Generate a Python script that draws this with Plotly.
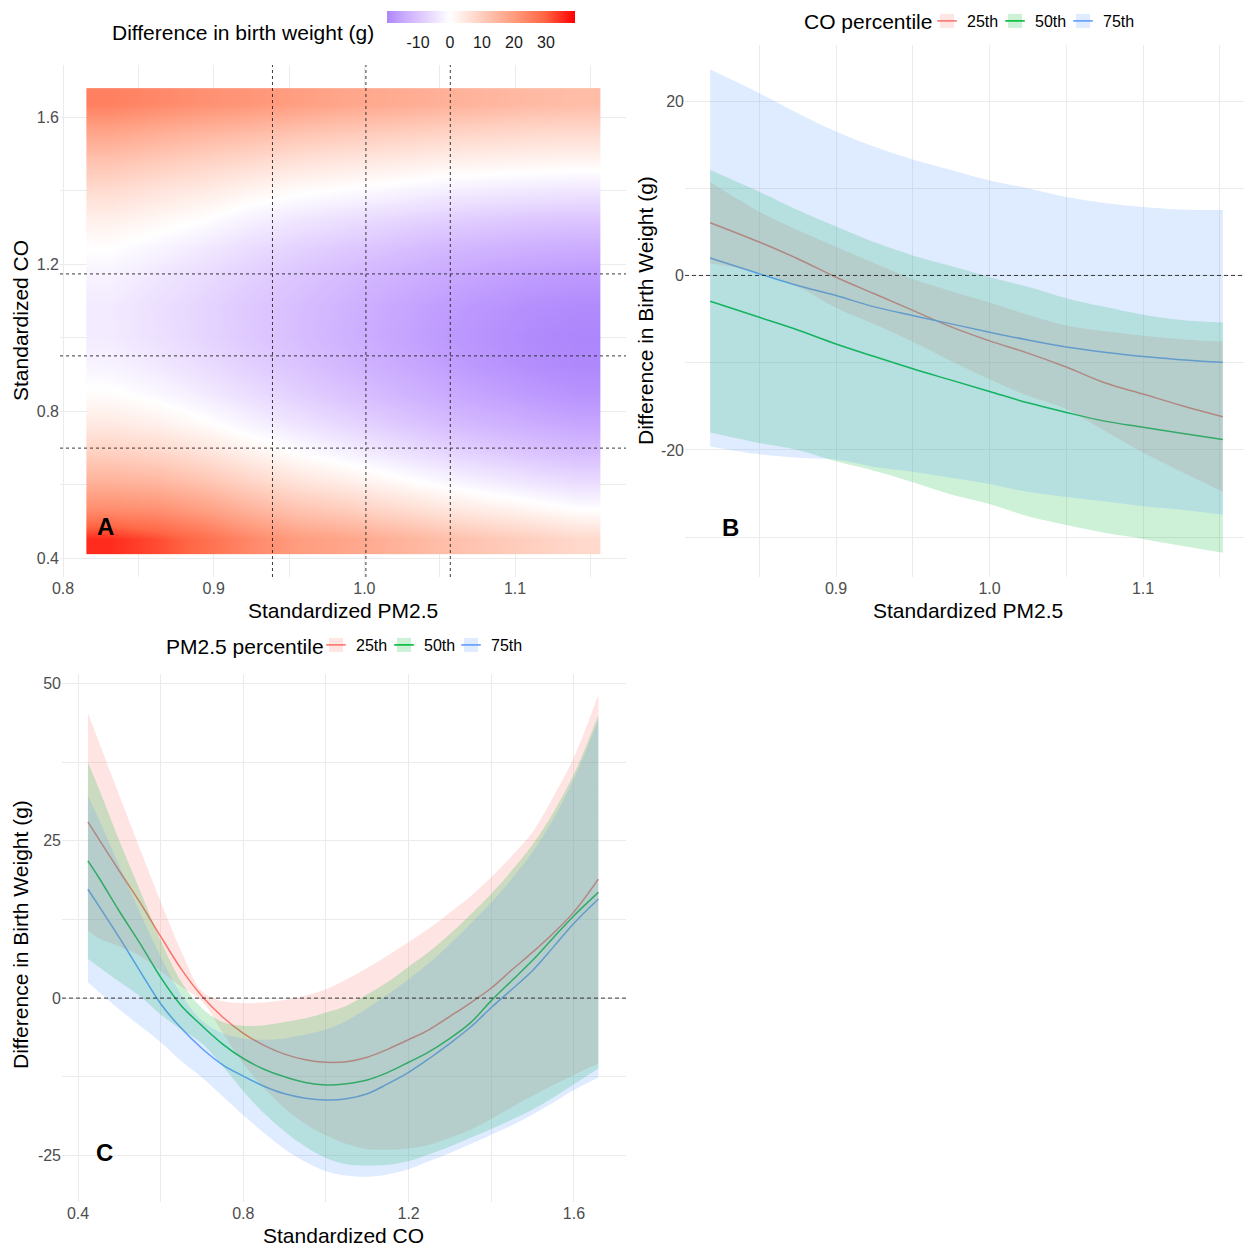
import plotly.graph_objects as go

W, H = 1244, 1247
def fx(px):
    return px / W
def fy(py):
    return 1 - py / H

FONT = "Liberation Sans, Arial, sans-serif"

# ---------------- Panel A : surface ----------------
pm_grid = [0.831, 0.862, 0.893, 0.924, 0.955, 0.986, 1.017, 1.048, 1.079, 1.110, 1.141]
co_grid = [0.451, 0.530, 0.609, 0.688, 0.768, 0.847, 0.926, 1.005, 1.085, 1.164,
           1.243, 1.322, 1.402, 1.481, 1.560, 1.639]
bw_surface = [
    [35.0, 32.0, 28.1, 23.4, 19.9, 18.2, 15.9, 13.5, 11.5, 9.8, 7.8],
    [22.9, 22.2, 19.4, 15.4, 12.2, 10.3, 8.0, 5.7, 3.8, 2.1, 0.3],
    [15.5, 14.5, 11.9, 8.4, 5.6, 3.5, 1.3, -0.9, -2.75, -4.4, -5.9],
    [9.35, 8.1, 5.7, 2.7, 0.0, -2.1, -4.3, -6.4, -8.1, -9.7, -11.0],
    [4.3, 2.9, 0.65, -2.0, -4.4, -6.6, -8.7, -10.7, -12.35, -13.8, -15.0],
    [0.57, -1.0, -3.1, -5.5, -7.7, -9.8, -11.9, -13.8, -15.3, -16.7, -17.7],
    [-1.96, -3.65, -5.67, -7.8, -9.8, -12.0, -13.9, -15.7, -17.2, -18.4, -19.3],
    [-3.29, -5.05, -6.99, -9.0, -10.9, -12.9, -14.8, -16.5, -17.8, -19.0, -19.7],
    [-3.4, -5.2, -7.08, -9.07, -10.8, -12.7, -14.5, -16.1, -17.25, -18.3, -18.9],
    [-2.28, -4.1, -5.95, -7.96, -9.7, -11.4, -13.0, -14.4, -15.5, -16.5, -17.0],
    [0.0, -1.7, -3.58, -5.7, -7.4, -8.9, -10.3, -11.7, -12.6, -13.4, -13.9],
    [3.0, 1.5, 0.0, -2.3, -4.0, -5.2, -6.5, -7.7, -8.5, -9.2, -9.6],
    [7.1, 5.5, 4.0, 2.1, 0.6, -0.3, -1.4, -2.5, -3.2, -3.7, -4.1],
    [12.0, 10.5, 8.9, 7.4, 5.8, 4.8, 4.0, 3.0, 2.5, 2.1, 1.8],
    [18.1, 16.5, 14.9, 13.6, 12.1, 10.9, 10.0, 9.0, 8.3, 7.6, 7.3],
    [25.0, 23.5, 22.0, 21.0, 19.5, 18.0, 17.0, 16.0, 15.0, 14.0, 13.5],
]
z_min, z_max = -19.7, 39.1
pm_percentiles = [0.939, 1.001, 1.057]
co_percentiles = [0.699, 0.950, 1.173]
cbar_ticks = [-10, 0, 10, 20, 30]

# ---------------- Panel B : PM2.5 slices ----------------
pm_x = [0.818, 0.85, 0.875, 0.90, 0.925, 0.95, 0.975, 1.00, 1.025, 1.05, 1.075, 1.10, 1.125, 1.152]
b_fit_25 = [6.05, 3.83, 1.92, -0.2, -2.1, -4.0, -5.9, -7.5, -8.9, -10.5, -12.3, -13.6, -14.9, -16.2]
b_hi_25 = [10.7, 7.3, 5.2, 3.3, 1.4, -0.4, -1.8, -3.1, -4.5, -5.75, -6.4, -6.9, -7.3, -7.6]
b_lo_25 = [1.4, 0.3, -1.3, -3.7, -5.6, -7.6, -9.8, -11.9, -13.8, -15.3, -17.8, -20.3, -22.5, -24.8]
b_fit_50 = [-2.95, -4.8, -6.25, -7.85, -9.3, -10.7, -12.0, -13.3, -14.6, -15.7, -16.7, -17.4, -18.1, -18.8]
b_hi_50 = [12.1, 9.6, 7.5, 5.6, 3.8, 2.3, 1.07, -0.2, -1.3, -2.6, -3.6, -4.5, -5.1, -5.4]
b_lo_50 = [-18.0, -19.2, -20.0, -21.3, -22.4, -23.7, -25.1, -26.2, -27.6, -28.6, -29.5, -30.2, -31.0, -31.8]
b_fit_75 = [2.0, 0.2, -1.15, -2.3, -3.6, -4.6, -5.55, -6.5, -7.4, -8.2, -8.8, -9.3, -9.65, -9.96]
b_hi_75 = [23.6, 20.9, 18.6, 16.5, 14.75, 13.3, 12.1, 10.9, 10.0, 9.0, 8.3, 7.85, 7.55, 7.5]
b_lo_75 = [-19.6, -20.5, -20.9, -21.1, -21.95, -22.5, -23.2, -23.9, -24.8, -25.4, -25.9, -26.45, -26.85, -27.4]

# ---------------- Panel C : CO slices ----------------
co_x = [0.424, 0.45, 0.50, 0.55, 0.60, 0.65, 0.70, 0.75, 0.80, 0.85, 0.90, 0.95, 1.00,
        1.05, 1.10, 1.15, 1.20, 1.25, 1.30, 1.35, 1.40, 1.45, 1.50, 1.55, 1.60, 1.659]
c_fit_25 = [28.0, 25.3, 20.2, 15.2, 9.8, 4.6, 0.3, -3.0, -5.6, -7.5, -8.9, -9.8, -10.2,
            -10.1, -9.4, -8.1, -6.6, -5.0, -2.9, -0.75, 1.6, 4.5, 7.3, 10.3, 13.7, 18.9]
c_hi_25 = [45.3, 40.8, 32.2, 23.7, 15.3, 7.4, 1.1, -0.5, -0.8, -0.7, -0.3, 0.4, 1.4,
           3.0, 4.8, 6.8, 8.9, 11.1, 13.6, 16.2, 19.2, 22.6, 26.4, 32.0, 38.3, 48.2]
c_lo_25 = [10.7, 9.5, 8.2, 6.7, 4.3, 1.8, -0.5, -5.5, -10.4, -14.3, -17.5, -20.0, -21.8,
           -23.2, -24.0, -24.1, -23.9, -23.3, -22.2, -20.9, -19.2, -17.3, -15.5, -13.8, -12.2, -10.4]
c_fit_50 = [21.8, 19.2, 13.8, 8.7, 3.3, -1.2, -4.4, -7.3, -9.6, -11.3, -12.5, -13.4, -13.8,
            -13.6, -13.0, -11.8, -10.2, -8.5, -6.4, -3.9, -0.4, 2.8, 6.0, 9.6, 13.1, 16.8]
c_hi_50 = [37.4, 33.4, 25.0, 17.1, 9.2, 2.6, -1.6, -3.8, -4.4, -4.3, -3.8, -3.2, -2.3,
           -1.2, 0.6, 2.6, 5.0, 7.4, 10.2, 13.3, 16.6, 20.3, 24.4, 29.5, 35.6, 45.0]
c_lo_50 = [6.2, 5.0, 2.6, 0.3, -2.6, -5.0, -7.2, -10.8, -14.8, -18.3, -21.2, -23.6, -25.4,
           -26.4, -26.6, -26.5, -25.9, -24.8, -23.6, -22.2, -20.8, -19.3, -17.7, -15.8, -13.7, -11.2]
c_fit_75 = [17.3, 14.7, 9.6, 4.3, -0.9, -4.8, -8.0, -10.6, -12.4, -14.0, -15.2, -15.9, -16.2,
            -16.0, -15.2, -13.6, -11.8, -9.6, -7.2, -4.6, -1.5, 1.4, 4.4, 8.1, 11.9, 15.75]
c_hi_75 = [32.1, 28.5, 21.0, 13.6, 6.6, 0.5, -3.6, -5.6, -6.4, -6.6, -6.4, -5.8, -5.0,
           -3.6, -1.6, 0.6, 3.0, 5.6, 8.6, 11.8, 15.2, 19.0, 23.2, 28.4, 34.8, 44.2]
c_lo_75 = [2.5, 1.0, -1.8, -4.4, -7.0, -10.0, -12.6, -15.6, -18.6, -21.4, -24.0, -26.0, -27.5,
           -28.2, -28.4, -28.0, -27.2, -25.9, -24.6, -23.2, -21.7, -20.2, -18.5, -16.6, -14.6, -12.6]

pct_labels = ["25th", "50th", "75th"]
line_cols = ["#F8766D", "#00BA38", "#619CFF"]
fill_cols = ["rgba(248,118,109,0.2)", "rgba(0,186,56,0.2)", "rgba(97,156,255,0.2)"]

fig = go.Figure()

# ---- heatmap ----
def pos(v):
    return (v - z_min) / (z_max - z_min)

colorscale = [
    [pos(-19.7), "#AD86FC"], [pos(-15.0), "#C7A6FF"], [pos(-10.0), "#DBC3FF"],
    [pos(-5.0), "#EDE1FF"], [pos(0.0), "#FFFFFF"], [pos(9.78), "#FFCFBF"],
    [pos(19.55), "#FF9E81"], [pos(29.3), "#FF6846"], [pos(39.1), "#FF0000"],
]
colorscale[0][0] = 0.0
colorscale[-1][0] = 1.0

fig.add_trace(go.Heatmap(
    x=pm_grid, y=co_grid, z=bw_surface, zmin=z_min, zmax=z_max,
    colorscale=colorscale, zsmooth="best", xaxis="x", yaxis="y",
    colorbar=dict(
        orientation="h", lenmode="pixels", len=188, thicknessmode="pixels", thickness=12,
        x=fx(481), xanchor="center", y=fy(11), yanchor="top", xpad=0, ypad=0,
        outlinewidth=0, tickvals=cbar_ticks, ticktext=[str(t) for t in cbar_ticks],
        ticks="outside", ticklen=6, tickcolor="white",
        tickfont=dict(family=FONT, size=16, color="#1A1A1A"),
    ),
    hoverinfo="skip",
))

# ---- panels B and C ----
b_sets = [(b_fit_25, b_hi_25, b_lo_25), (b_fit_50, b_hi_50, b_lo_50), (b_fit_75, b_hi_75, b_lo_75)]
c_sets = [(c_fit_25, c_hi_25, c_lo_25), (c_fit_50, c_hi_50, c_lo_50), (c_fit_75, c_hi_75, c_lo_75)]

for (xs, sets, xa, ya) in [(pm_x, b_sets, "x2", "y2"), (co_x, c_sets, "x3", "y3")]:
    for i, (fit, hi, lo) in enumerate(sets):
        fig.add_trace(go.Scatter(
            x=xs, y=fit, mode="lines", line=dict(color=line_cols[i], width=1.5, shape="spline"),
            xaxis=xa, yaxis=ya, showlegend=False, hoverinfo="skip"))
    for i, (fit, hi, lo) in enumerate(sets):
        fig.add_trace(go.Scatter(
            x=xs, y=lo, mode="lines", line=dict(width=0, shape="spline", color=line_cols[i]),
            xaxis=xa, yaxis=ya, showlegend=False, hoverinfo="skip"))
        fig.add_trace(go.Scatter(
            x=xs, y=hi, mode="lines", line=dict(width=0, shape="spline", color=line_cols[i]),
            fill="tonexty", fillcolor=fill_cols[i],
            xaxis=xa, yaxis=ya, showlegend=False, hoverinfo="skip"))

# ---- legends: one legend per key (square fill + overlaid short line) ----
legend_layout = {}
key_text_x = {"B": [967, 1035, 1103], "C": [356, 424, 491]}
key_top_y = {"B": 4, "C": 628}
axes_of = {"B": ("x2", "y2"), "C": ("x3", "y3")}
n = 0
for layer in ("fill", "line"):
    for panel in ("B", "C"):
        xa, ya = axes_of[panel]
        for i, lab in enumerate(pct_labels):
            n += 1
            lname = "legend" if n == 1 else "legend%d" % n
            if layer == "fill":
                tr = go.Scatter(x=[None], y=[None], mode="markers", name=lab, legend=lname,
                                marker=dict(symbol="square", size=14, color=fill_cols[i],
                                            line=dict(width=0)),
                                xaxis=xa, yaxis=ya, showlegend=True, hoverinfo="skip")
            else:
                tr = go.Scatter(x=[None], y=[None], mode="markers", name=" ", legend=lname,
                                marker=dict(symbol="line-ew", size=14,
                                            line=dict(color=line_cols[i], width=1.6)),
                                xaxis=xa, yaxis=ya, showlegend=True, hoverinfo="skip")
            fig.add_trace(tr)
            legend_layout[lname] = dict(
                x=fx(key_text_x[panel][i] - 40), y=fy(key_top_y[panel]),
                xanchor="left", yanchor="top", orientation="h",
                font=dict(family=FONT, size=16, color="black"),
                bgcolor="rgba(0,0,0,0)", borderwidth=0)

# ---- shapes ----
shapes = []
for v in pm_percentiles:
    shapes.append(dict(type="line", xref="x", yref="y domain", x0=v, x1=v, y0=0, y1=1,
                       line=dict(color="#222222", width=0.9, dash="3px,3px")))
for v in co_percentiles:
    shapes.append(dict(type="line", xref="x domain", yref="y", x0=0, x1=1, y0=v, y1=v,
                       line=dict(color="#222222", width=0.9, dash="3px,3px")))
for xr, yr in [("x2 domain", "y2"), ("x3 domain", "y3")]:
    shapes.append(dict(type="line", xref=xr, yref=yr, x0=0, x1=1, y0=0, y1=0,
                       line=dict(color="#222222", width=0.9, dash="4px,3px")))

# ---- annotations ----
def ann(text, x, y, size=21, angle=0, xanchor="center", **kw):
    d = dict(text=text, x=x, y=y, xref="paper", yref="paper", showarrow=False,
             textangle=angle, xanchor=xanchor, yanchor="middle",
             font=dict(family=FONT, size=size, color="black"))
    d.update(kw)
    return d

annotations = [
    ann("Difference in birth weight (g)", fx(376), fy(32), xanchor="right"),
    ann("CO percentile", fx(802), fy(21), xanchor="left"),
    ann("PM2.5 percentile", fx(164), fy(646), xanchor="left"),
    ann("Standardized PM2.5", fx(343), fy(610)),
    ann("Standardized CO", fx(20), fy(321), angle=-90),
    ann("Standardized PM2.5", fx(968), fy(610)),
    ann("Difference in Birth Weight (g)", fx(645), fy(311), angle=-90),
    ann("Standardized CO", fx(343), fy(1235)),
    ann("Difference in Birth Weight (g)", fx(20), fy(935), angle=-90),
    dict(text="<b>A</b>", x=0.828, y=0.485, xref="x", yref="y", showarrow=False,
         font=dict(family=FONT, size=24, color="black")),
    dict(text="<b>B</b>", x=0.831, y=-28.9, xref="x2", yref="y2", showarrow=False,
         font=dict(family=FONT, size=24, color="black")),
    dict(text="<b>C</b>", x=0.465, y=-24.6, xref="x3", yref="y3", showarrow=False,
         font=dict(family=FONT, size=24, color="black")),
]

GRID = "#EBEBEB"
def axis(rng, dom, tickvals, ticktext, minor, anchor):
    return dict(range=rng, domain=dom, tickvals=tickvals, ticktext=ticktext,
                showgrid=True, gridcolor=GRID, gridwidth=1.2, zeroline=False,
                showline=False, ticks="", anchor=anchor, automargin=False,
                tickfont=dict(family=FONT, size=16, color="#4D4D4D"),
                minor=dict(tickvals=minor, showgrid=True, gridcolor=GRID, gridwidth=0.6, ticks=""))

fig.update_layout(
    width=W, height=H, margin=dict(l=0, r=0, t=0, b=0, autoexpand=False),
    paper_bgcolor="white", plot_bgcolor="white",
    font=dict(family=FONT, color="black"),
    xaxis=axis([0.798, 1.1736], [fx(60), fx(626)], [0.8, 0.9, 1.0, 1.1],
               ["0.8", "0.9", "1.0", "1.1"], [0.85, 0.95, 1.05, 1.15], "y"),
    yaxis=axis([0.3483, 1.7415], [fy(577), fy(65)], [0.4, 0.8, 1.2, 1.6],
               ["0.4", "0.8", "1.2", "1.6"], [0.6, 1.0, 1.4], "x"),
    xaxis2=axis([0.8016, 1.1658], [fx(685), 1.0], [0.9, 1.0, 1.1],
                ["0.9", "1.0", "1.1"], [0.85, 0.95, 1.05, 1.15], "y2"),
    yaxis2=axis([-34.57, 26.42], [fy(577), fy(45)], [-20, 0, 20],
                ["-20", "0", "20"], [-30, -10, 10], "x2"),
    xaxis3=axis([0.3613, 1.7259], [fx(62), fx(626)], [0.4, 0.8, 1.2, 1.6],
                ["0.4", "0.8", "1.2", "1.6"], [0.6, 1.0, 1.4], "y3"),
    yaxis3=axis([-32.4, 51.5], [fy(1202), fy(674)], [-25, 0, 25, 50],
                ["-25", "0", "25", "50"], [-12.5, 12.5, 37.5], "x3"),
    shapes=shapes, annotations=annotations,
    **legend_layout,
)

fig.write_html("out.html", config={"displayModeBar": False},
               post_script="document.body.style.margin='0';")
